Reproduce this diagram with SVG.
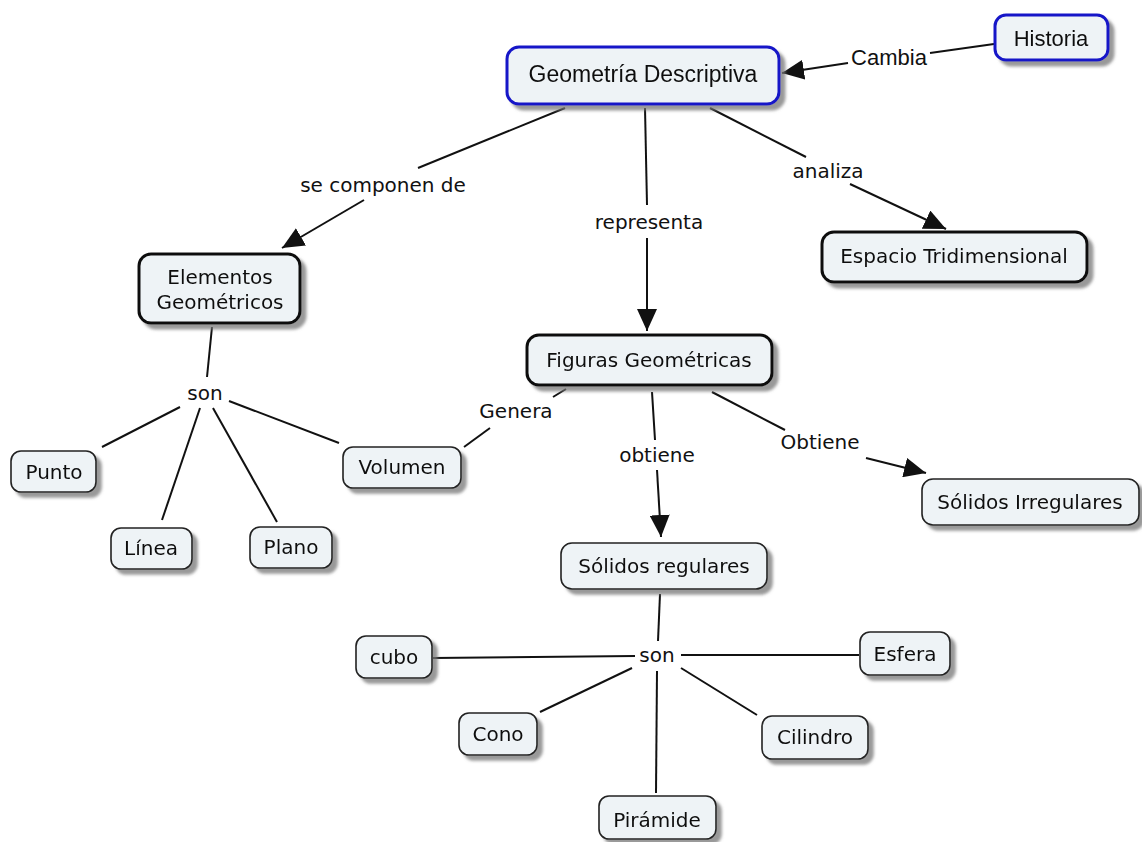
<svg xmlns="http://www.w3.org/2000/svg" width="1142" height="842" viewBox="0 0 1142 842">
<style>
.n{fill:#eef3f6;stroke:#222;stroke-width:1.6}
.nb{fill:#eef3f6;stroke:#111;stroke-width:3}
.nblue{fill:#eef3f6;stroke:#1515c8;stroke-width:3}
.t{font-family:"DejaVu Sans",Verdana,sans-serif;font-size:20px;fill:#111;text-anchor:middle;dominant-baseline:central}
.ta{font-family:"Liberation Sans",Arial,sans-serif;font-size:22px;fill:#111;text-anchor:middle;dominant-baseline:central}
.c{stroke:#111;stroke-width:2;fill:none}
</style>
<defs>
<filter id="sh" x="-20%" y="-20%" width="150%" height="160%">
<feGaussianBlur in="SourceAlpha" stdDeviation="1.5"/>
<feOffset dx="5" dy="5" result="b"/>
<feFlood flood-color="#777" flood-opacity="0.75"/>
<feComposite in2="b" operator="in"/>
<feMerge><feMergeNode/><feMergeNode in="SourceGraphic"/></feMerge>
</filter>
<marker id="ar" markerUnits="userSpaceOnUse" markerWidth="24" markerHeight="20" refX="22" refY="10" orient="auto">
<path d="M0,0 L22,10 L0,20 Z" fill="#111"/>
</marker>
</defs>
<rect width="1142" height="842" fill="#fff"/>
<g id="connectors">
<line class="c" x1="994" y1="44" x2="930" y2="53"/>
<line class="c" x1="848" y1="63" x2="782" y2="73" marker-end="url(#ar)"/>
<line class="c" x1="565" y1="108" x2="418" y2="168"/>
<line class="c" x1="364" y1="200" x2="282" y2="248" marker-end="url(#ar)"/>
<line class="c" x1="645" y1="108" x2="647" y2="205"/>
<line class="c" x1="647" y1="238" x2="647" y2="331" marker-end="url(#ar)"/>
<line class="c" x1="710" y1="108" x2="806" y2="157"/>
<line class="c" x1="850" y1="184" x2="946" y2="229" marker-end="url(#ar)"/>
<line class="c" x1="212" y1="327" x2="207" y2="377"/>
<line class="c" x1="180" y1="407" x2="102" y2="447"/>
<line class="c" x1="200" y1="408" x2="162" y2="520"/>
<line class="c" x1="213" y1="408" x2="277" y2="522"/>
<line class="c" x1="229" y1="401" x2="339" y2="443"/>
<line class="c" x1="566" y1="389" x2="553" y2="397"/>
<line class="c" x1="490" y1="428" x2="464" y2="447"/>
<line class="c" x1="652" y1="392" x2="655" y2="440"/>
<line class="c" x1="657" y1="470" x2="661" y2="537" marker-end="url(#ar)"/>
<line class="c" x1="712" y1="392" x2="785" y2="430"/>
<line class="c" x1="866" y1="458" x2="926" y2="473" marker-end="url(#ar)"/>
<line class="c" x1="660" y1="594" x2="658" y2="641"/>
<line class="c" x1="635" y1="656" x2="433" y2="658"/>
<line class="c" x1="681" y1="655" x2="859" y2="655"/>
<line class="c" x1="632" y1="668" x2="540" y2="712"/>
<line class="c" x1="657" y1="671" x2="656" y2="793"/>
<line class="c" x1="681" y1="668" x2="757" y2="715"/>
</g>
<g id="labels">
<text class="ta" x="889" y="57">Cambia</text>
<text class="t" x="383" y="185">se componen de</text>
<text class="t" x="649" y="222">representa</text>
<text class="t" x="828" y="171">analiza</text>
<text class="t" x="205" y="393">son</text>
<text class="t" x="516" y="411">Genera</text>
<text class="t" x="657" y="455">obtiene</text>
<text class="t" x="820" y="442">Obtiene</text>
<text class="t" x="657" y="655">son</text>
</g>
<g id="n-geometria" filter="url(#sh)"><rect class="nblue" x="507" y="47" width="272" height="57" rx="12"/><text class="ta" x="643" y="74" style="font-size:23px">Geometría Descriptiva</text></g>
<g id="n-historia" filter="url(#sh)"><rect class="nblue" x="995" y="15" width="113" height="45" rx="11"/><text class="ta" x="1051" y="38">Historia</text></g>
<g id="n-elementos" filter="url(#sh)"><rect class="nb" x="139" y="254" width="161" height="69" rx="12"/><text class="t" x="220" y="277">Elementos</text><text class="t" x="220" y="302">Geométricos</text></g>
<g id="n-espacio" filter="url(#sh)"><rect class="nb" x="822" y="232" width="265" height="50" rx="12"/><text class="t" x="954" y="256">Espacio Tridimensional</text></g>
<g id="n-figuras" filter="url(#sh)"><rect class="nb" x="527" y="335" width="245" height="50" rx="12"/><text class="t" x="649" y="360">Figuras Geométricas</text></g>
<g id="n-irregulares" filter="url(#sh)"><rect class="n" x="922" y="479" width="217" height="46" rx="11"/><text class="t" x="1030" y="502">Sólidos Irregulares</text></g>
<g id="n-regulares" filter="url(#sh)"><rect class="n" x="561" y="543" width="206" height="46" rx="11"/><text class="t" x="664" y="566">Sólidos regulares</text></g>
<g id="n-punto" filter="url(#sh)"><rect class="n" x="11" y="451" width="85" height="41" rx="10"/><text class="t" x="54" y="472">Punto</text></g>
<g id="n-linea" filter="url(#sh)"><rect class="n" x="111" y="528" width="81" height="41" rx="10"/><text class="t" x="151" y="548">Línea</text></g>
<g id="n-plano" filter="url(#sh)"><rect class="n" x="250" y="527" width="82" height="41" rx="10"/><text class="t" x="291" y="547">Plano</text></g>
<g id="n-volumen" filter="url(#sh)"><rect class="n" x="343" y="447" width="118" height="41" rx="10"/><text class="t" x="402" y="467">Volumen</text></g>
<g id="n-cubo" filter="url(#sh)"><rect class="n" x="356" y="636" width="76" height="42" rx="10"/><text class="t" x="394" y="657">cubo</text></g>
<g id="n-cono" filter="url(#sh)"><rect class="n" x="459" y="713" width="78" height="42" rx="10"/><text class="t" x="498" y="734">Cono</text></g>
<g id="n-piramide" filter="url(#sh)"><rect class="n" x="599" y="796" width="117" height="43" rx="10"/><text class="t" x="657" y="820">Pirámide</text></g>
<g id="n-cilindro" filter="url(#sh)"><rect class="n" x="762" y="716" width="106" height="43" rx="10"/><text class="t" x="815" y="737">Cilindro</text></g>
<g id="n-esfera" filter="url(#sh)"><rect class="n" x="860" y="632" width="90" height="43" rx="10"/><text class="t" x="905" y="654">Esfera</text></g>
</svg>
